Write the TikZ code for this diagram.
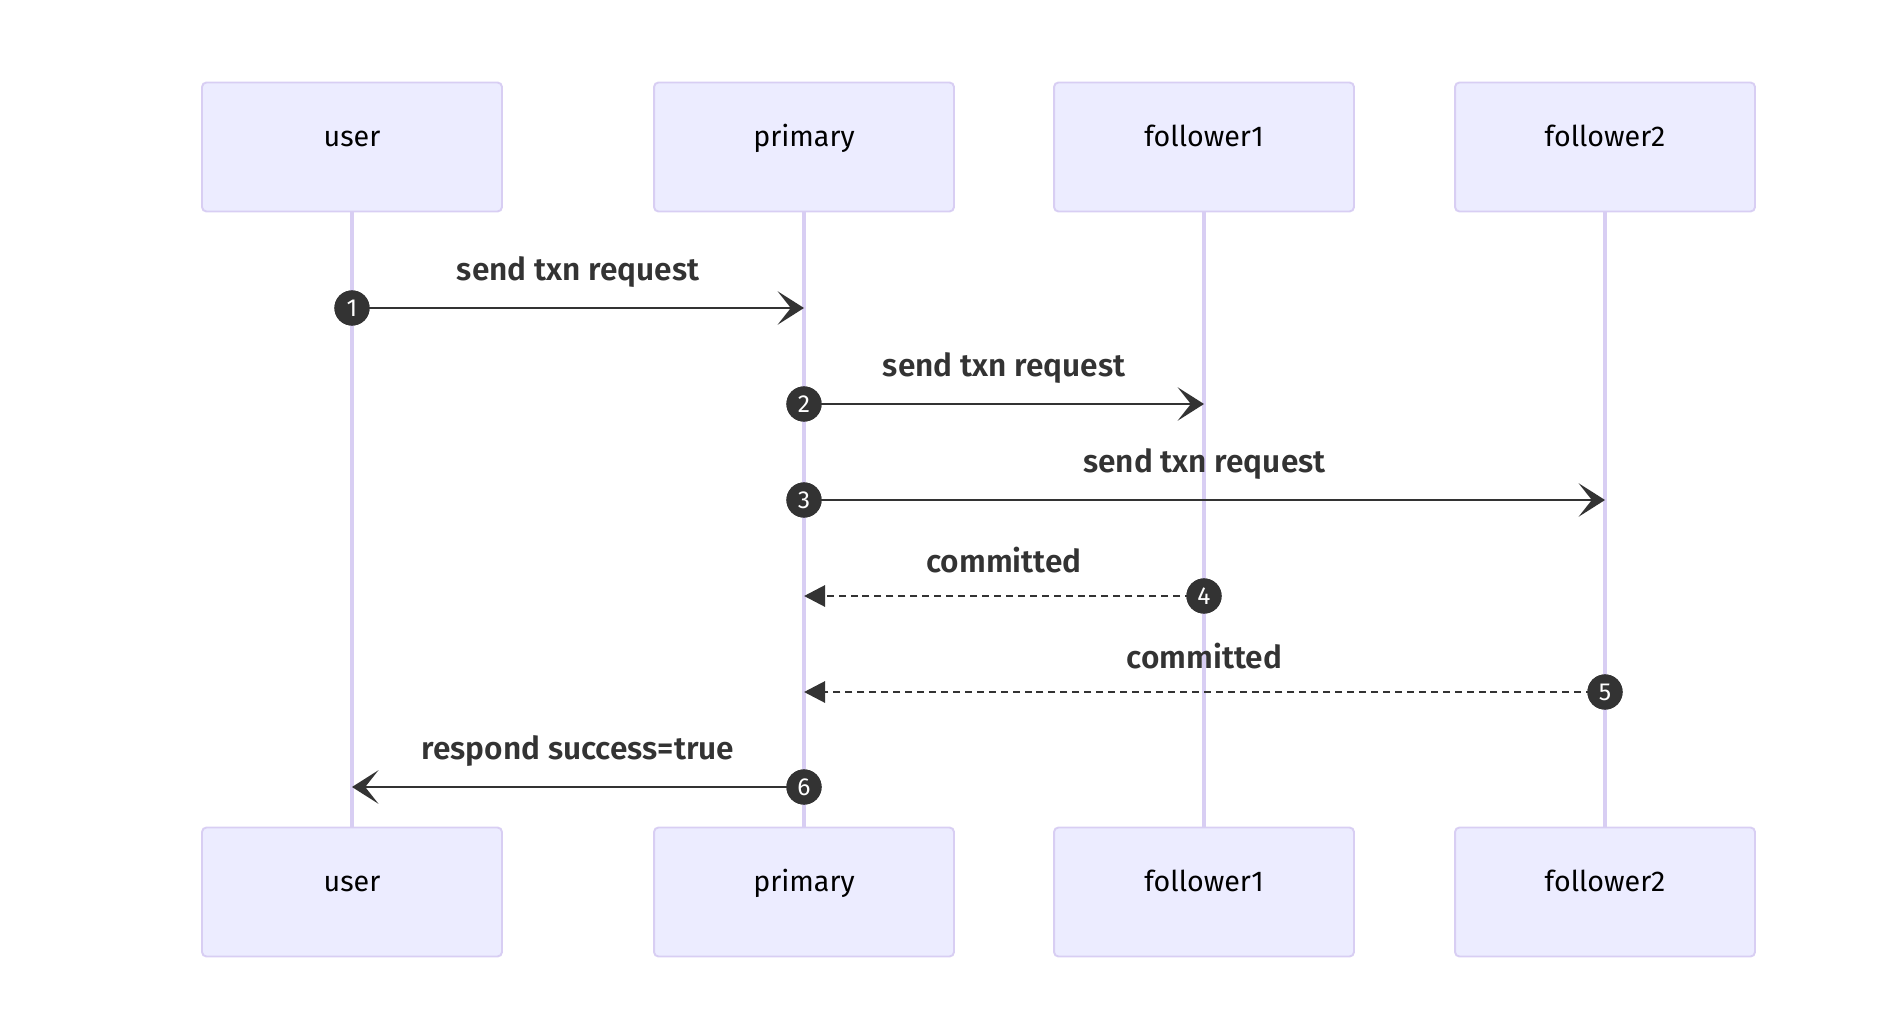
\documentclass[tikz,border=0pt]{standalone}
\usepackage{fontspec}
\setmainfont{Fira Sans}[BoldFont={* SemiBold}]
\usetikzlibrary{arrows.meta}

\definecolor{actfill}{HTML}{ECECFF}
\definecolor{actline}{HTML}{D8CEF3}
\definecolor{msgcol}{HTML}{333333}

\tikzset{
  actor/.style={draw=actline, fill=actfill, line width=1.1pt, rounded corners=2.5pt,
    minimum width=6cm, minimum height=2.58cm},
  actortext/.style={font=\fontsize{16.3}{16.3}\selectfont, text=black,
    text height=0.72em, text depth=0.22em},
  life/.style={draw=actline, line width=1.9pt},
  msg/.style={draw=msgcol, line width=1.7pt, -{Stealth[length=15pt,width=19pt,inset=7.5pt]}},
  reply/.style={draw=msgcol, line width=1.7pt, dash pattern=on 4pt off 2.8pt,
    -{Triangle[length=12pt,width=12pt]}},
  seqnum/.style={circle, fill=msgcol, text=white, inner sep=0pt, minimum size=20pt,
    font=\fontsize{14}{14}\selectfont},
  msglabel/.style={text=msgcol, font=\fontsize{18}{18}\selectfont\bfseries}
}

\begin{document}
\begin{tikzpicture}[x=0.02cm, y=-0.02cm]
	\useasboundingbox (0,0) rectangle (1904,1034);

	% actors and lifelines
	\foreach \name/\xx in {user/352, primary/804, follower1/1204, follower2/1605} {
		\node[actor, label={[actortext, yshift=0.09cm]center:\name}] (\name-top) at (\xx,147) {};
		\node[actor, label={[actortext, yshift=0.09cm]center:\name}] (\name-bot) at (\xx,892) {};
		\draw[life] (\name-top) -- (\name-bot);
	}

	% messages
	\foreach \i/\from/\to/\yy/\sty/\txt in {
		1/user/primary/308/msg/send txn request,
		2/primary/follower1/404/msg/send txn request,
		3/primary/follower2/500/msg/send txn request,
		4/follower1/primary/596/reply/committed,
		5/follower2/primary/692/reply/committed,
		6/primary/user/787/msg/respond success=true} {
		\node[seqnum] (n\i) at (\from-top |- 0,\yy) {};
		\coordinate (t\i) at (\to-top |- 0,\yy);
		\draw[\sty] (n\i.center) -- (t\i) node[msglabel, midway, yshift=0.72cm] (l\i) {\txt};
		\node[seqnum] at (n\i) {\i};
	}
\end{tikzpicture}
\end{document}
